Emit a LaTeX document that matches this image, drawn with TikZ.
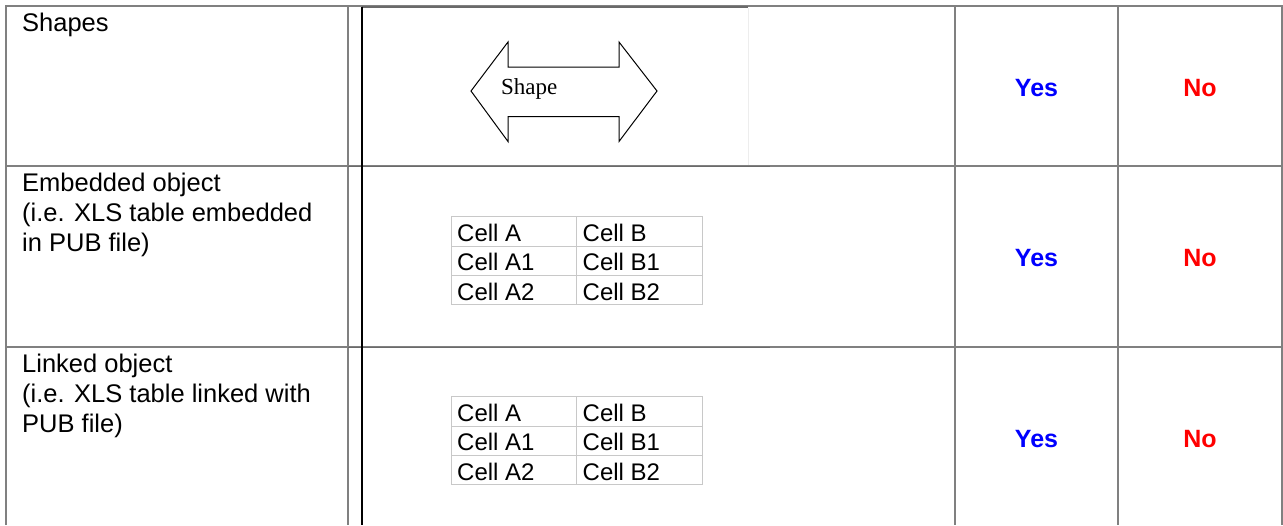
\documentclass[tikz,border=0pt]{standalone}
\usepackage{fontspec}
\setmainfont{Liberation Sans}
\newfontfamily\shapeserif{Liberation Serif}
\definecolor{gridgray}{HTML}{808080}
\definecolor{framegray}{HTML}{6A6A6A}
\definecolor{smallgray}{HTML}{C8C8C8}
\definecolor{faintgray}{HTML}{EDEDED}
\definecolor{yesblue}{RGB}{0,0,255}
\definecolor{nored}{RGB}{255,0,0}
\begin{document}
\begin{tikzpicture}[x=1pt,y=-1pt,
  gridline/.style={draw=gridgray,line width=1.3pt},
  frameline/.style={draw=framegray,line width=1.3pt},
  smallgrid/.style={draw=smallgray,line width=1pt},
  lbl/.style={anchor=base west,inner sep=0pt,font=\fontsize{25.5}{30}\selectfont},
  celltxt/.style={anchor=base west,inner sep=0pt,font=\fontsize{24}{28}\selectfont},
  yestxt/.style={anchor=base,inner sep=0pt,font=\fontsize{25}{30}\selectfont\bfseries,text=yesblue},
  notxt/.style={anchor=base,inner sep=0pt,font=\fontsize{25}{30}\selectfont\bfseries,text=nored}]
\useasboundingbox (0,0) rectangle (1283,525);
\fill[white] (0,0) rectangle (1283,525);

% table grid
\draw[gridline] (6,525) -- (6,6) -- (1282,6) -- (1282,525);
\draw[gridline] (6,166) -- (1282,166);
\draw[gridline] (6,347) -- (1282,347);
\draw[gridline] (348,6) -- (348,525);
\draw[gridline] (955,6) -- (955,525);
\draw[gridline] (1118,6) -- (1118,525);

% picture frames in the second column
\draw[faintgray,line width=1pt] (748,8) -- (748,165);
\draw[frameline] (362,7) -- (748,7);
\draw[frameline] (348,166.3) -- (770,166.3);
\draw[frameline] (348,347.3) -- (770,347.3);
\draw[black,line width=1.3pt] (362,6.5) -- (362,525);

% double arrow shape
\draw[black,line width=1pt,line join=miter]
  (471,91) -- (508,42) -- (508,67) -- (619,67) -- (619,42) -- (657,91)
  -- (619,141.5) -- (619,116.5) -- (508,116.5) -- (508,141.5) -- cycle;
\node[anchor=base west,inner sep=0pt,font=\shapeserif\fontsize{23}{28}\selectfont] (shapetxt) at (501,94) {Shape};

% small embedded / linked tables
\foreach \dy/\nm in {0/e,180/l}{
  \draw[smallgrid] (451,{216.7+\dy}) rectangle (702,{304.3+\dy});
  \draw[smallgrid] (576.5,{216.7+\dy}) -- (576.5,{304.3+\dy});
  \draw[smallgrid] (451,{246.5+\dy}) -- (702,{246.5+\dy});
  \draw[smallgrid] (451,{275.7+\dy}) -- (702,{275.7+\dy});
  \node[celltxt] (\nm a0) at (457,{241.5+\dy}) {Cell A};
  \node[celltxt] (\nm b0) at (582.5,{241.5+\dy}) {Cell B};
  \node[celltxt] (\nm a1) at (457,{270.8+\dy}) {Cell A1};
  \node[celltxt] (\nm b1) at (582.5,{270.8+\dy}) {Cell B1};
  \node[celltxt] (\nm a2) at (457,{300+\dy}) {Cell A2};
  \node[celltxt] (\nm b2) at (582.5,{300+\dy}) {Cell B2};
}

% first column labels
\node[lbl] (r1a) at (22,31) {Shapes};
\node[lbl] (r2a) at (22,191.5) {Embedded object};
\node[lbl] (r2b) at (22,221.5) {(i.e. XLS table embedded};
\node[lbl] (r2c) at (22,251.5) {in PUB file)};
\node[lbl] (r3a) at (22,372) {Linked object};
\node[lbl] (r3b) at (22,402) {(i.e. XLS table linked with};
\node[lbl] (r3c) at (22,432) {PUB file)};

% Yes / No
\node[yestxt] (y1) at (1036.5,96.7) {Yes};
\node[notxt]  (n1) at (1200,96.7) {No};
\node[yestxt] (y2) at (1036.5,266) {Yes};
\node[notxt]  (n2) at (1200,266) {No};
\node[yestxt] (y3) at (1036.5,447.3) {Yes};
\node[notxt]  (n3) at (1200,447.3) {No};
\end{tikzpicture}
\end{document}
